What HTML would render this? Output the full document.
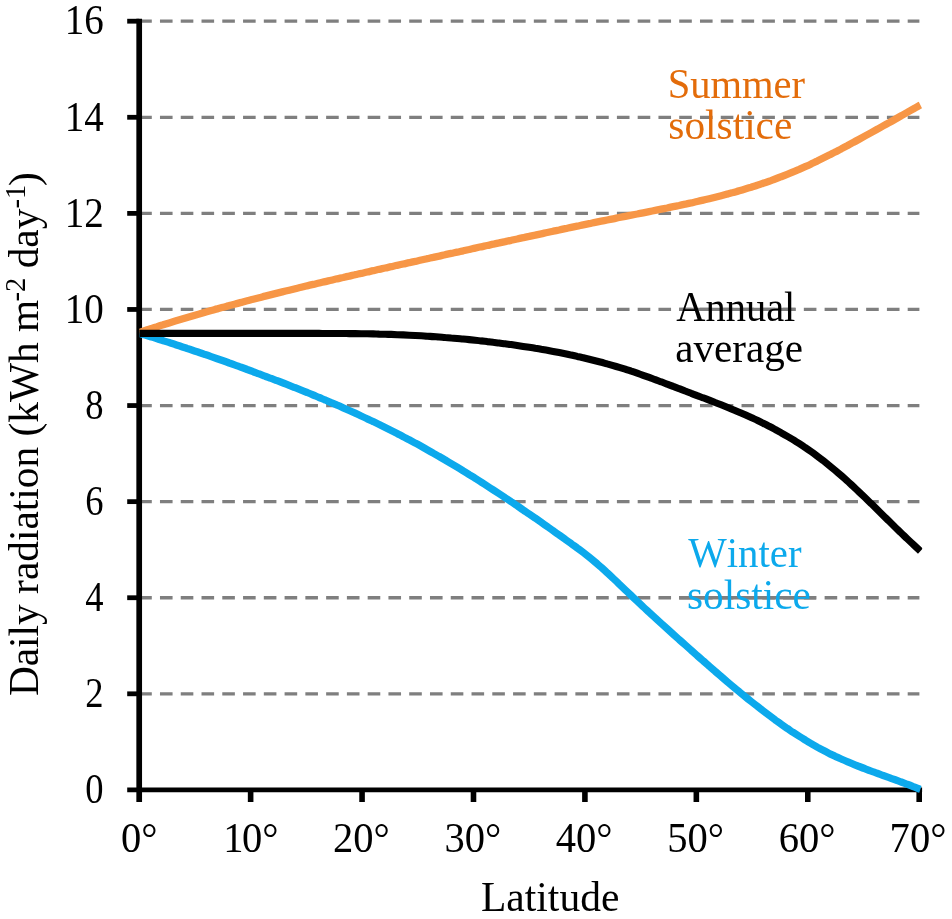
<!DOCTYPE html>
<html><head><meta charset="utf-8"><title>Daily radiation vs latitude</title>
<style>
html,body{margin:0;padding:0;background:#fff;}
body{width:952px;height:919px;overflow:hidden;font-family:"Liberation Serif",serif;}
svg{display:block;will-change:transform;}
</style></head><body>
<svg width="952" height="919" viewBox="0 0 952 919">
<rect width="952" height="919" fill="#ffffff"/>
<defs><clipPath id="plot"><rect x="139.2" y="0" width="783.1" height="919"/></clipPath></defs>
<line x1="139.2" y1="693.81" x2="919.4" y2="693.81" stroke="#7f7f7f" stroke-width="3.3" stroke-dasharray="12.6 8.17"/>
<line x1="139.2" y1="597.73" x2="919.4" y2="597.73" stroke="#7f7f7f" stroke-width="3.3" stroke-dasharray="12.6 8.17"/>
<line x1="139.2" y1="501.64" x2="919.4" y2="501.64" stroke="#7f7f7f" stroke-width="3.3" stroke-dasharray="12.6 8.17"/>
<line x1="139.2" y1="405.55" x2="919.4" y2="405.55" stroke="#7f7f7f" stroke-width="3.3" stroke-dasharray="12.6 8.17"/>
<line x1="139.2" y1="309.46" x2="919.4" y2="309.46" stroke="#7f7f7f" stroke-width="3.3" stroke-dasharray="12.6 8.17"/>
<line x1="139.2" y1="213.38" x2="919.4" y2="213.38" stroke="#7f7f7f" stroke-width="3.3" stroke-dasharray="12.6 8.17"/>
<line x1="139.2" y1="117.29" x2="919.4" y2="117.29" stroke="#7f7f7f" stroke-width="3.3" stroke-dasharray="12.6 8.17"/>
<line x1="139.2" y1="21.20" x2="919.4" y2="21.20" stroke="#7f7f7f" stroke-width="3.3" stroke-dasharray="12.6 8.17"/>
<line x1="679" y1="309.46" x2="795.5" y2="309.46" stroke="#7f7f7f" stroke-width="3.3"/>
<line x1="679" y1="597.73" x2="816" y2="597.73" stroke="#7f7f7f" stroke-width="3.3"/>
<line x1="139.2" y1="18.7" x2="139.2" y2="802" stroke="#000" stroke-width="5.7"/>
<line x1="127.2" y1="789.9" x2="922.1" y2="789.9" stroke="#000" stroke-width="4.8"/>
<line x1="127.2" y1="693.81" x2="139.2" y2="693.81" stroke="#000" stroke-width="4.8"/>
<line x1="127.2" y1="597.73" x2="139.2" y2="597.73" stroke="#000" stroke-width="4.8"/>
<line x1="127.2" y1="501.64" x2="139.2" y2="501.64" stroke="#000" stroke-width="4.8"/>
<line x1="127.2" y1="405.55" x2="139.2" y2="405.55" stroke="#000" stroke-width="4.8"/>
<line x1="127.2" y1="309.46" x2="139.2" y2="309.46" stroke="#000" stroke-width="4.8"/>
<line x1="127.2" y1="213.38" x2="139.2" y2="213.38" stroke="#000" stroke-width="4.8"/>
<line x1="127.2" y1="117.29" x2="139.2" y2="117.29" stroke="#000" stroke-width="4.8"/>
<line x1="127.2" y1="21.20" x2="139.2" y2="21.20" stroke="#000" stroke-width="4.8"/>
<line x1="250.63" y1="789.9" x2="250.63" y2="802" stroke="#000" stroke-width="5.6"/>
<line x1="362.06" y1="789.9" x2="362.06" y2="802" stroke="#000" stroke-width="5.6"/>
<line x1="473.49" y1="789.9" x2="473.49" y2="802" stroke="#000" stroke-width="5.6"/>
<line x1="584.91" y1="789.9" x2="584.91" y2="802" stroke="#000" stroke-width="5.6"/>
<line x1="696.34" y1="789.9" x2="696.34" y2="802" stroke="#000" stroke-width="5.6"/>
<line x1="807.77" y1="789.9" x2="807.77" y2="802" stroke="#000" stroke-width="5.6"/>
<line x1="919.20" y1="789.9" x2="919.20" y2="802" stroke="#000" stroke-width="5.6"/>
<g clip-path="url(#plot)" fill="none" stroke-width="7.1" stroke-linejoin="round">
<path d="M139.2 333.3 C140.2 333.6 143.2 334.5 145.2 335.1 C147.2 335.7 149.2 336.3 151.2 336.9 C153.2 337.6 155.2 338.2 157.2 338.8 C159.2 339.4 161.2 340.1 163.2 340.7 C165.2 341.3 167.2 342.0 169.2 342.6 C171.2 343.2 173.2 343.9 175.2 344.5 C177.2 345.2 179.2 345.8 181.2 346.5 C183.2 347.2 185.2 347.8 187.2 348.5 C189.2 349.1 191.2 349.8 193.2 350.5 C195.2 351.2 197.2 351.8 199.2 352.5 C201.2 353.2 203.2 353.9 205.2 354.6 C207.2 355.2 209.2 355.9 211.2 356.6 C213.2 357.3 215.2 358.0 217.2 358.7 C219.2 359.4 221.2 360.1 223.2 360.8 C225.2 361.5 227.2 362.2 229.2 363.0 C231.2 363.7 233.2 364.4 235.2 365.1 C237.2 365.8 239.2 366.6 241.2 367.3 C243.2 368.0 245.2 368.7 247.2 369.5 C249.2 370.2 251.2 370.9 253.2 371.7 C255.2 372.4 257.2 373.2 259.2 373.9 C261.2 374.7 263.2 375.4 265.2 376.2 C267.2 376.9 269.2 377.7 271.2 378.4 C273.2 379.2 275.2 379.9 277.2 380.7 C279.2 381.5 281.2 382.3 283.2 383.0 C285.2 383.8 287.2 384.6 289.2 385.4 C291.2 386.2 293.2 386.9 295.2 387.7 C297.2 388.5 299.2 389.3 301.2 390.1 C303.2 390.9 305.2 391.7 307.2 392.5 C309.2 393.4 311.2 394.2 313.2 395.0 C315.2 395.8 317.2 396.7 319.2 397.5 C321.2 398.3 323.2 399.2 325.2 400.0 C327.2 400.9 329.2 401.7 331.2 402.6 C333.2 403.4 335.2 404.3 337.2 405.2 C339.2 406.0 341.2 406.9 343.2 407.8 C345.2 408.7 347.2 409.6 349.2 410.5 C351.2 411.4 353.2 412.3 355.2 413.2 C357.2 414.1 359.2 415.0 361.2 416.0 C363.2 416.9 365.2 417.8 367.2 418.8 C369.2 419.7 371.2 420.7 373.2 421.6 C375.2 422.6 377.2 423.6 379.2 424.5 C381.2 425.5 383.2 426.5 385.2 427.5 C387.2 428.5 389.2 429.5 391.2 430.5 C393.2 431.5 395.2 432.5 397.2 433.5 C399.2 434.6 401.2 435.6 403.2 436.7 C405.2 437.7 407.2 438.8 409.2 439.8 C411.2 440.9 413.2 442.0 415.2 443.1 C417.2 444.1 419.2 445.2 421.2 446.3 C423.2 447.4 425.2 448.6 427.2 449.7 C429.2 450.8 431.2 451.9 433.2 453.1 C435.2 454.2 437.2 455.4 439.2 456.5 C441.2 457.7 443.2 458.9 445.2 460.0 C447.2 461.2 449.2 462.4 451.2 463.6 C453.2 464.8 455.2 466.0 457.2 467.2 C459.2 468.4 461.2 469.6 463.2 470.9 C465.2 472.1 467.2 473.3 469.2 474.6 C471.2 475.8 473.2 477.1 475.2 478.3 C477.2 479.6 479.2 480.9 481.2 482.1 C483.2 483.4 485.2 484.7 487.2 486.0 C489.2 487.3 491.2 488.6 493.2 489.9 C495.2 491.2 497.2 492.5 499.2 493.8 C501.2 495.1 503.2 496.4 505.2 497.8 C507.2 499.1 509.2 500.4 511.2 501.8 C513.2 503.1 515.2 504.5 517.2 505.8 C519.2 507.2 521.2 508.5 523.2 509.9 C525.2 511.3 527.2 512.6 529.2 514.0 C531.2 515.4 533.2 516.8 535.2 518.1 C537.2 519.5 539.2 520.9 541.2 522.3 C543.2 523.7 545.2 525.1 547.2 526.5 C549.2 527.9 551.2 529.4 553.2 530.8 C555.2 532.2 557.2 533.6 559.2 535.0 C561.2 536.5 563.2 537.9 565.2 539.3 C567.2 540.8 569.2 542.2 571.2 543.6 C573.2 545.1 575.2 546.5 577.2 548.0 C579.2 549.4 581.2 550.9 583.2 552.4 C585.2 553.9 587.2 555.5 589.2 557.1 C591.2 558.7 593.2 560.4 595.2 562.1 C597.2 563.8 599.2 565.6 601.2 567.3 C603.2 569.1 605.2 570.9 607.2 572.8 C609.2 574.6 611.2 576.5 613.2 578.4 C615.2 580.2 617.2 582.1 619.2 584.1 C621.2 586.0 623.2 587.9 625.2 589.8 C627.2 591.7 629.2 593.6 631.2 595.5 C633.2 597.4 635.2 599.3 637.2 601.2 C639.2 603.1 641.2 605.0 643.2 606.9 C645.2 608.7 647.2 610.6 649.2 612.4 C651.2 614.3 653.2 616.1 655.2 617.9 C657.2 619.8 659.2 621.6 661.2 623.4 C663.2 625.2 665.2 627.0 667.2 628.8 C669.2 630.6 671.2 632.4 673.2 634.2 C675.2 636.0 677.2 637.8 679.2 639.6 C681.2 641.3 683.2 643.1 685.2 644.9 C687.2 646.7 689.2 648.5 691.2 650.2 C693.2 652.0 695.2 653.8 697.2 655.6 C699.2 657.3 701.2 659.1 703.2 660.9 C705.2 662.6 707.2 664.4 709.2 666.1 C711.2 667.9 713.2 669.6 715.2 671.4 C717.2 673.1 719.2 674.8 721.2 676.5 C723.2 678.3 725.2 680.0 727.2 681.7 C729.2 683.4 731.2 685.0 733.2 686.7 C735.2 688.4 737.2 690.1 739.2 691.7 C741.2 693.4 743.2 695.0 745.2 696.6 C747.2 698.3 749.2 699.9 751.2 701.5 C753.2 703.1 755.2 704.7 757.2 706.2 C759.2 707.8 761.2 709.4 763.2 710.9 C765.2 712.4 767.2 713.9 769.2 715.4 C771.2 716.9 773.2 718.4 775.2 719.9 C777.2 721.3 779.2 722.8 781.2 724.2 C783.2 725.6 785.2 727.0 787.2 728.4 C789.2 729.7 791.2 731.1 793.2 732.4 C795.2 733.7 797.2 735.0 799.2 736.3 C801.2 737.6 803.2 738.8 805.2 740.0 C807.2 741.3 809.2 742.5 811.2 743.6 C813.2 744.8 815.2 745.9 817.2 747.1 C819.2 748.2 821.2 749.3 823.2 750.3 C825.2 751.4 827.2 752.4 829.2 753.4 C831.2 754.4 833.2 755.3 835.2 756.3 C837.2 757.2 839.2 758.1 841.2 759.0 C843.2 759.9 845.2 760.8 847.2 761.6 C849.2 762.5 851.2 763.3 853.2 764.1 C855.2 765.0 857.2 765.7 859.2 766.5 C861.2 767.3 863.2 768.1 865.2 768.8 C867.2 769.6 869.2 770.4 871.2 771.1 C873.2 771.8 875.2 772.6 877.2 773.3 C879.2 774.0 881.2 774.8 883.2 775.5 C885.2 776.2 887.2 776.9 889.2 777.6 C891.2 778.4 893.2 779.1 895.2 779.8 C897.2 780.5 899.2 781.3 901.2 782.0 C903.2 782.8 905.2 783.5 907.2 784.3 C909.2 785.0 911.0 785.7 913.2 786.6 C915.4 787.4 919.2 789.0 920.4 789.4" stroke="#0CA9EC" stroke-width="7.3"/>
<path d="M139.2 332.5 C140.2 332.2 143.2 331.2 145.2 330.5 C147.2 329.9 149.2 329.2 151.2 328.6 C153.2 327.9 155.2 327.3 157.2 326.7 C159.2 326.0 161.2 325.4 163.2 324.8 C165.2 324.1 167.2 323.5 169.2 322.9 C171.2 322.3 173.2 321.7 175.2 321.1 C177.2 320.5 179.2 319.9 181.2 319.3 C183.2 318.7 185.2 318.1 187.2 317.5 C189.2 316.9 191.2 316.3 193.2 315.7 C195.2 315.1 197.2 314.5 199.2 314.0 C201.2 313.4 203.2 312.8 205.2 312.2 C207.2 311.7 209.2 311.1 211.2 310.5 C213.2 310.0 215.2 309.4 217.2 308.9 C219.2 308.3 221.2 307.8 223.2 307.2 C225.2 306.7 227.2 306.1 229.2 305.6 C231.2 305.0 233.2 304.5 235.2 304.0 C237.2 303.4 239.2 302.9 241.2 302.4 C243.2 301.8 245.2 301.3 247.2 300.8 C249.2 300.3 251.2 299.7 253.2 299.2 C255.2 298.7 257.2 298.2 259.2 297.7 C261.2 297.2 263.2 296.6 265.2 296.1 C267.2 295.6 269.2 295.1 271.2 294.6 C273.2 294.1 275.2 293.6 277.2 293.1 C279.2 292.6 281.2 292.1 283.2 291.6 C285.2 291.2 287.2 290.7 289.2 290.2 C291.2 289.7 293.2 289.2 295.2 288.7 C297.2 288.2 299.2 287.8 301.2 287.3 C303.2 286.8 305.2 286.3 307.2 285.8 C309.2 285.4 311.2 284.9 313.2 284.4 C315.2 283.9 317.2 283.5 319.2 283.0 C321.2 282.5 323.2 282.1 325.2 281.6 C327.2 281.1 329.2 280.7 331.2 280.2 C333.2 279.7 335.2 279.3 337.2 278.8 C339.2 278.4 341.2 277.9 343.2 277.5 C345.2 277.0 347.2 276.5 349.2 276.1 C351.2 275.6 353.2 275.2 355.2 274.7 C357.2 274.3 359.2 273.8 361.2 273.4 C363.2 272.9 365.2 272.5 367.2 272.0 C369.2 271.6 371.2 271.1 373.2 270.7 C375.2 270.2 377.2 269.8 379.2 269.3 C381.2 268.9 383.2 268.4 385.2 268.0 C387.2 267.6 389.2 267.1 391.2 266.7 C393.2 266.2 395.2 265.8 397.2 265.3 C399.2 264.9 401.2 264.5 403.2 264.0 C405.2 263.6 407.2 263.1 409.2 262.7 C411.2 262.2 413.2 261.8 415.2 261.4 C417.2 260.9 419.2 260.5 421.2 260.0 C423.2 259.6 425.2 259.2 427.2 258.7 C429.2 258.3 431.2 257.8 433.2 257.4 C435.2 256.9 437.2 256.5 439.2 256.1 C441.2 255.6 443.2 255.2 445.2 254.7 C447.2 254.3 449.2 253.9 451.2 253.4 C453.2 253.0 455.2 252.5 457.2 252.1 C459.2 251.7 461.2 251.2 463.2 250.8 C465.2 250.3 467.2 249.9 469.2 249.5 C471.2 249.0 473.2 248.6 475.2 248.1 C477.2 247.7 479.2 247.3 481.2 246.8 C483.2 246.4 485.2 245.9 487.2 245.5 C489.2 245.1 491.2 244.6 493.2 244.2 C495.2 243.7 497.2 243.3 499.2 242.9 C501.2 242.4 503.2 242.0 505.2 241.6 C507.2 241.1 509.2 240.7 511.2 240.3 C513.2 239.8 515.2 239.4 517.2 239.0 C519.2 238.5 521.2 238.1 523.2 237.7 C525.2 237.2 527.2 236.8 529.2 236.4 C531.2 235.9 533.2 235.5 535.2 235.1 C537.2 234.6 539.2 234.2 541.2 233.8 C543.2 233.4 545.2 232.9 547.2 232.5 C549.2 232.1 551.2 231.7 553.2 231.2 C555.2 230.8 557.2 230.4 559.2 230.0 C561.2 229.5 563.2 229.1 565.2 228.7 C567.2 228.3 569.2 227.8 571.2 227.4 C573.2 227.0 575.2 226.6 577.2 226.2 C579.2 225.8 581.2 225.3 583.2 224.9 C585.2 224.5 587.2 224.1 589.2 223.7 C591.2 223.3 593.2 222.8 595.2 222.4 C597.2 222.0 599.2 221.6 601.2 221.2 C603.2 220.8 605.2 220.4 607.2 220.0 C609.2 219.6 611.2 219.2 613.2 218.8 C615.2 218.4 617.2 217.9 619.2 217.5 C621.2 217.1 623.2 216.7 625.2 216.3 C627.2 215.9 629.2 215.5 631.2 215.1 C633.2 214.7 635.2 214.3 637.2 214.0 C639.2 213.6 641.2 213.2 643.2 212.8 C645.2 212.4 647.2 212.0 649.2 211.6 C651.2 211.2 653.2 210.8 655.2 210.4 C657.2 210.0 659.2 209.6 661.2 209.2 C663.2 208.8 665.2 208.4 667.2 208.0 C669.2 207.5 671.2 207.1 673.2 206.7 C675.2 206.3 677.2 205.9 679.2 205.5 C681.2 205.0 683.2 204.6 685.2 204.2 C687.2 203.7 689.2 203.3 691.2 202.9 C693.2 202.4 695.2 202.0 697.2 201.5 C699.2 201.1 701.2 200.6 703.2 200.1 C705.2 199.7 707.2 199.2 709.2 198.7 C711.2 198.2 713.2 197.7 715.2 197.2 C717.2 196.7 719.2 196.2 721.2 195.7 C723.2 195.2 725.2 194.7 727.2 194.1 C729.2 193.6 731.2 193.0 733.2 192.5 C735.2 191.9 737.2 191.4 739.2 190.8 C741.2 190.2 743.2 189.6 745.2 189.0 C747.2 188.4 749.2 187.8 751.2 187.2 C753.2 186.5 755.2 185.9 757.2 185.2 C759.2 184.6 761.2 183.9 763.2 183.2 C765.2 182.6 767.2 181.9 769.2 181.2 C771.2 180.5 773.2 179.7 775.2 179.0 C777.2 178.3 779.2 177.5 781.2 176.7 C783.2 176.0 785.2 175.2 787.2 174.4 C789.2 173.6 791.2 172.8 793.2 171.9 C795.2 171.1 797.2 170.2 799.2 169.4 C801.2 168.5 803.2 167.6 805.2 166.7 C807.2 165.8 809.2 164.9 811.2 163.9 C813.2 163.0 815.2 162.0 817.2 161.1 C819.2 160.1 821.2 159.1 823.2 158.1 C825.2 157.1 827.2 156.1 829.2 155.1 C831.2 154.1 833.2 153.0 835.2 152.0 C837.2 151.0 839.2 149.9 841.2 148.9 C843.2 147.8 845.2 146.7 847.2 145.7 C849.2 144.6 851.2 143.5 853.2 142.4 C855.2 141.4 857.2 140.3 859.2 139.2 C861.2 138.1 863.2 137.0 865.2 135.9 C867.2 134.8 869.2 133.7 871.2 132.6 C873.2 131.5 875.2 130.4 877.2 129.3 C879.2 128.2 881.2 127.0 883.2 125.9 C885.2 124.8 887.2 123.7 889.2 122.6 C891.2 121.4 893.2 120.3 895.2 119.2 C897.2 118.1 899.2 116.9 901.2 115.8 C903.2 114.7 905.2 113.5 907.2 112.4 C909.2 111.2 911.0 110.2 913.2 109.0 C915.4 107.7 919.2 105.5 920.4 104.9" stroke="#F79646" stroke-width="7.3"/>
<path d="M139.2 333.4 C140.2 333.4 143.2 333.4 145.2 333.4 C147.2 333.4 149.2 333.4 151.2 333.4 C153.2 333.4 155.2 333.4 157.2 333.4 C159.2 333.4 161.2 333.4 163.2 333.4 C165.2 333.4 167.2 333.4 169.2 333.4 C171.2 333.4 173.2 333.4 175.2 333.4 C177.2 333.4 179.2 333.4 181.2 333.4 C183.2 333.4 185.2 333.4 187.2 333.4 C189.2 333.4 191.2 333.4 193.2 333.4 C195.2 333.4 197.2 333.4 199.2 333.4 C201.2 333.4 203.2 333.4 205.2 333.4 C207.2 333.4 209.2 333.4 211.2 333.4 C213.2 333.4 215.2 333.4 217.2 333.4 C219.2 333.4 221.2 333.4 223.2 333.4 C225.2 333.4 227.2 333.4 229.2 333.4 C231.2 333.4 233.2 333.4 235.2 333.4 C237.2 333.4 239.2 333.4 241.2 333.4 C243.2 333.4 245.2 333.4 247.2 333.4 C249.2 333.4 251.2 333.4 253.2 333.4 C255.2 333.4 257.2 333.4 259.2 333.4 C261.2 333.4 263.2 333.4 265.2 333.4 C267.2 333.4 269.2 333.4 271.2 333.4 C273.2 333.4 275.2 333.4 277.2 333.4 C279.2 333.4 281.2 333.4 283.2 333.4 C285.2 333.4 287.2 333.4 289.2 333.4 C291.2 333.4 293.2 333.4 295.2 333.4 C297.2 333.4 299.2 333.4 301.2 333.4 C303.2 333.4 305.2 333.4 307.2 333.4 C309.2 333.4 311.2 333.4 313.2 333.4 C315.2 333.4 317.2 333.4 319.2 333.4 C321.2 333.4 323.2 333.5 325.2 333.5 C327.2 333.5 329.2 333.5 331.2 333.5 C333.2 333.5 335.2 333.5 337.2 333.5 C339.2 333.5 341.2 333.5 343.2 333.5 C345.2 333.5 347.2 333.6 349.2 333.6 C351.2 333.6 353.2 333.6 355.2 333.6 C357.2 333.7 359.2 333.7 361.2 333.7 C363.2 333.8 365.2 333.8 367.2 333.8 C369.2 333.9 371.2 333.9 373.2 333.9 C375.2 334.0 377.2 334.0 379.2 334.1 C381.2 334.1 383.2 334.2 385.2 334.3 C387.2 334.3 389.2 334.4 391.2 334.4 C393.2 334.5 395.2 334.6 397.2 334.7 C399.2 334.7 401.2 334.8 403.2 334.9 C405.2 335.0 407.2 335.1 409.2 335.2 C411.2 335.3 413.2 335.4 415.2 335.5 C417.2 335.6 419.2 335.7 421.2 335.8 C423.2 335.9 425.2 336.1 427.2 336.2 C429.2 336.3 431.2 336.5 433.2 336.6 C435.2 336.7 437.2 336.9 439.2 337.0 C441.2 337.2 443.2 337.3 445.2 337.5 C447.2 337.6 449.2 337.8 451.2 338.0 C453.2 338.1 455.2 338.3 457.2 338.5 C459.2 338.7 461.2 338.8 463.2 339.0 C465.2 339.2 467.2 339.4 469.2 339.6 C471.2 339.8 473.2 340.0 475.2 340.2 C477.2 340.4 479.2 340.6 481.2 340.9 C483.2 341.1 485.2 341.3 487.2 341.6 C489.2 341.8 491.2 342.0 493.2 342.3 C495.2 342.5 497.2 342.8 499.2 343.0 C501.2 343.3 503.2 343.5 505.2 343.8 C507.2 344.1 509.2 344.3 511.2 344.6 C513.2 344.9 515.2 345.2 517.2 345.5 C519.2 345.8 521.2 346.1 523.2 346.4 C525.2 346.7 527.2 347.0 529.2 347.3 C531.2 347.6 533.2 347.9 535.2 348.3 C537.2 348.6 539.2 348.9 541.2 349.3 C543.2 349.6 545.2 350.0 547.2 350.3 C549.2 350.7 551.2 351.1 553.2 351.4 C555.2 351.8 557.2 352.2 559.2 352.6 C561.2 353.0 563.2 353.4 565.2 353.8 C567.2 354.2 569.2 354.6 571.2 355.1 C573.2 355.5 575.2 355.9 577.2 356.4 C579.2 356.8 581.2 357.3 583.2 357.7 C585.2 358.2 587.2 358.7 589.2 359.2 C591.2 359.7 593.2 360.2 595.2 360.7 C597.2 361.2 599.2 361.7 601.2 362.2 C603.2 362.8 605.2 363.3 607.2 363.9 C609.2 364.4 611.2 365.0 613.2 365.6 C615.2 366.2 617.2 366.8 619.2 367.4 C621.2 368.0 623.2 368.6 625.2 369.2 C627.2 369.9 629.2 370.5 631.2 371.2 C633.2 371.8 635.2 372.5 637.2 373.2 C639.2 373.9 641.2 374.6 643.2 375.3 C645.2 376.0 647.2 376.7 649.2 377.4 C651.2 378.1 653.2 378.9 655.2 379.6 C657.2 380.3 659.2 381.1 661.2 381.8 C663.2 382.6 665.2 383.3 667.2 384.1 C669.2 384.8 671.2 385.6 673.2 386.4 C675.2 387.1 677.2 387.9 679.2 388.7 C681.2 389.4 683.2 390.2 685.2 391.0 C687.2 391.7 689.2 392.5 691.2 393.3 C693.2 394.0 695.2 394.8 697.2 395.6 C699.2 396.3 701.2 397.1 703.2 397.8 C705.2 398.6 707.2 399.4 709.2 400.1 C711.2 400.9 713.2 401.7 715.2 402.5 C717.2 403.2 719.2 404.0 721.2 404.8 C723.2 405.6 725.2 406.4 727.2 407.2 C729.2 408.0 731.2 408.9 733.2 409.7 C735.2 410.5 737.2 411.4 739.2 412.2 C741.2 413.1 743.2 413.9 745.2 414.8 C747.2 415.7 749.2 416.6 751.2 417.5 C753.2 418.4 755.2 419.4 757.2 420.3 C759.2 421.3 761.2 422.3 763.2 423.2 C765.2 424.2 767.2 425.2 769.2 426.3 C771.2 427.3 773.2 428.4 775.2 429.5 C777.2 430.5 779.2 431.6 781.2 432.8 C783.2 433.9 785.2 435.0 787.2 436.2 C789.2 437.4 791.2 438.6 793.2 439.8 C795.2 441.1 797.2 442.3 799.2 443.6 C801.2 444.9 803.2 446.2 805.2 447.6 C807.2 448.9 809.2 450.3 811.2 451.7 C813.2 453.1 815.2 454.6 817.2 456.1 C819.2 457.6 821.2 459.1 823.2 460.6 C825.2 462.2 827.2 463.8 829.2 465.4 C831.2 467.0 833.2 468.7 835.2 470.4 C837.2 472.1 839.2 473.8 841.2 475.5 C843.2 477.3 845.2 479.1 847.2 480.9 C849.2 482.7 851.2 484.6 853.2 486.4 C855.2 488.3 857.2 490.2 859.2 492.1 C861.2 494.0 863.2 495.9 865.2 497.8 C867.2 499.7 869.2 501.7 871.2 503.6 C873.2 505.6 875.2 507.5 877.2 509.5 C879.2 511.5 881.2 513.4 883.2 515.4 C885.2 517.4 887.2 519.3 889.2 521.3 C891.2 523.3 893.2 525.2 895.2 527.2 C897.2 529.1 899.2 531.1 901.2 533.0 C903.2 534.9 905.2 536.9 907.2 538.8 C909.2 540.7 911.0 542.4 913.2 544.4 C915.4 546.5 919.2 550.0 920.4 551.1" stroke="#000"/>
</g>
<g font-family="'Liberation Serif', serif" font-size="42px" style="font-kerning:none">
<text transform="translate(103.4 803.1) scale(0.87 1)" text-anchor="end">0</text>
<text transform="translate(103.4 707.0) scale(0.87 1)" text-anchor="end">2</text>
<text transform="translate(103.4 610.9) scale(0.87 1)" text-anchor="end">4</text>
<text transform="translate(103.4 514.8) scale(0.87 1)" text-anchor="end">6</text>
<text transform="translate(103.4 418.8) scale(0.87 1)" text-anchor="end">8</text>
<text transform="translate(103.86 322.7) scale(0.93 1)" text-anchor="end">10</text>
<text transform="translate(103.86 226.6) scale(0.93 1)" text-anchor="end">12</text>
<text transform="translate(103.86 130.5) scale(0.93 1)" text-anchor="end">14</text>
<text transform="translate(103.86 34.4) scale(0.93 1)" text-anchor="end">16</text>
<text transform="translate(121.00 852.3) scale(0.966 1)">0°</text>
<text transform="translate(221.53 852.3) scale(0.966 1)"><tspan dx="1.7">1</tspan><tspan dx="-1.5">0°</tspan></text>
<text transform="translate(332.96 852.3) scale(0.966 1)">20°</text>
<text transform="translate(444.39 852.3) scale(0.966 1)">30°</text>
<text transform="translate(555.81 852.3) scale(0.966 1)">40°</text>
<text transform="translate(667.24 852.3) scale(0.966 1)">50°</text>
<text transform="translate(778.67 852.3) scale(0.966 1)">60°</text>
<text transform="translate(889.60 852.3) scale(0.966 1)">70°</text>
<text transform="translate(481.00 911.40) scale(0.9890 1)">Latitude</text>
<text transform="translate(38.3 696.1) rotate(-90) scale(0.985 1)">Daily radiation (kWh m<tspan font-size="29px" dy="-13.2" dx="-1.6">-2</tspan><tspan dy="13.2" dx="-1.0"> day</tspan><tspan font-size="29px" dy="-13.2">-1</tspan><tspan dy="13.2" dx="-1.2">)</tspan></text>
<g fill="#E36C0A"><text transform="translate(667.65 98.10) scale(0.9660 1)">Summer</text><text transform="translate(668.35 138.60) scale(0.9840 1)">solstice</text></g>
<g fill="#000"><text transform="translate(676.30 320.90) scale(0.9630 1)">Annual</text><text transform="translate(675.30 362.00) scale(0.9780 1)">average</text></g>
<g fill="#0CA9EC"><text transform="translate(688.15 567.30) scale(0.9722 1)">Winter</text><text transform="translate(687.05 608.90) scale(0.9830 1)">solstice</text></g>
</g>
</svg>
</body></html>
